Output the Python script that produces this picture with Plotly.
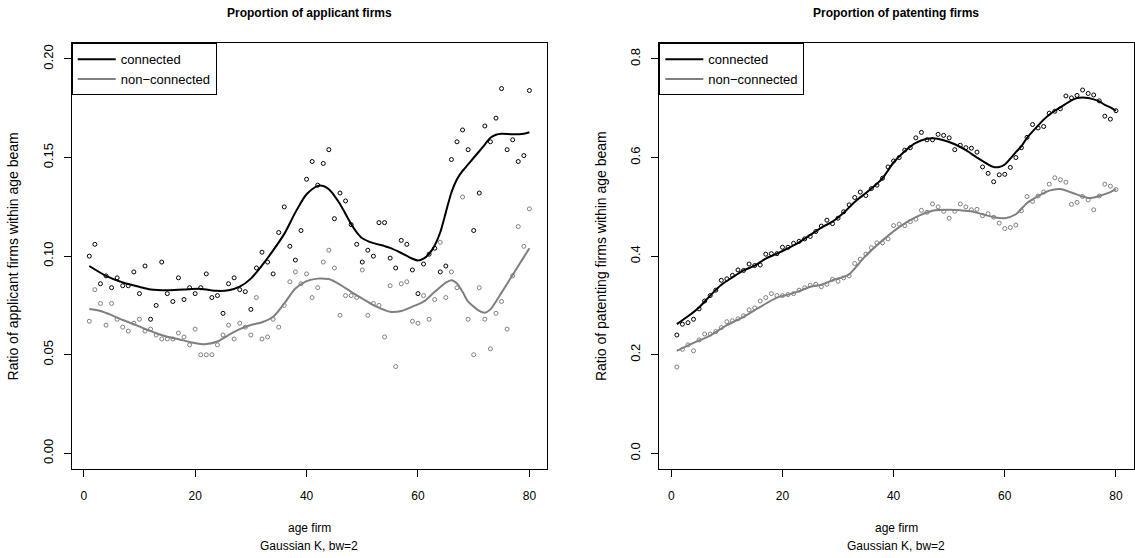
import plotly.graph_objects as go

# ---------------- data ----------------
ages = list(range(1, 81))

# Proportion of applicant firms (points)
app_connected = [0.100, 0.106, 0.086, 0.090, 0.084, 0.089, 0.085, 0.085, 0.092, 0.081,
                 0.095, 0.068, 0.075, 0.097, 0.081, 0.077, 0.089, 0.078, 0.084, 0.081,
                 0.084, 0.091, 0.079, 0.080, 0.071, 0.086, 0.089, 0.083, 0.082, 0.073,
                 0.094, 0.102, 0.097, 0.091, 0.112, 0.125, 0.105, 0.098, 0.113, 0.139,
                 0.148, 0.136, 0.147, 0.154, 0.119, 0.132, 0.128, 0.116, 0.106, 0.097,
                 0.103, 0.100, 0.117, 0.117, 0.099, 0.094, 0.108, 0.106, 0.093, 0.081,
                 0.096, 0.101, 0.104, 0.092, 0.095, 0.149, 0.158, 0.164, 0.154, 0.113,
                 0.132, 0.166, 0.158, 0.170, 0.185, 0.154, 0.159, 0.148, 0.151, 0.184]
app_nonconnected = [0.067, 0.083, 0.076, 0.065, 0.076, 0.068, 0.064, 0.062, 0.066, 0.068,
                    0.062, 0.063, 0.060, 0.058, 0.058, 0.058, 0.061, 0.059, 0.055, 0.063,
                    0.050, 0.050, 0.050, 0.055, 0.060, 0.065, 0.058, 0.066, 0.064, 0.060,
                    0.079, 0.058, 0.059, 0.068, 0.064, 0.075, 0.087, 0.092, 0.086, 0.091,
                    0.079, 0.084, 0.097, 0.103, 0.094, 0.070, 0.080, 0.080, 0.079, 0.093,
                    0.070, 0.076, 0.075, 0.059, 0.085, 0.044, 0.086, 0.087, 0.067, 0.066,
                    0.080, 0.068, 0.078, 0.107, 0.079, 0.092, 0.084, 0.130, 0.068, 0.050,
                    0.084, 0.068, 0.053, 0.071, 0.077, 0.063, 0.090, 0.115, 0.105, 0.124]

# Proportion of patenting firms (points)
pat_connected = [0.240, 0.262, 0.265, 0.272, 0.293, 0.309, 0.320, 0.331, 0.351, 0.354,
                 0.361, 0.372, 0.371, 0.384, 0.381, 0.382, 0.404, 0.405, 0.405, 0.418,
                 0.418, 0.426, 0.430, 0.435, 0.440, 0.450, 0.461, 0.473, 0.466, 0.477,
                 0.490, 0.504, 0.519, 0.530, 0.523, 0.537, 0.544, 0.558, 0.581, 0.593,
                 0.600, 0.615, 0.620, 0.640, 0.651, 0.636, 0.636, 0.647, 0.645, 0.640,
                 0.616, 0.625, 0.620, 0.619, 0.611, 0.581, 0.568, 0.551, 0.565, 0.566,
                 0.580, 0.600, 0.620, 0.641, 0.667, 0.660, 0.663, 0.690, 0.694, 0.699,
                 0.725, 0.721, 0.726, 0.737, 0.730, 0.727, 0.715, 0.684, 0.678, 0.695]
pat_nonconnected = [0.175, 0.211, 0.220, 0.208, 0.230, 0.242, 0.242, 0.247, 0.255, 0.267,
                    0.269, 0.273, 0.279, 0.291, 0.295, 0.309, 0.316, 0.324, 0.320, 0.320,
                    0.322, 0.324, 0.331, 0.336, 0.341, 0.343, 0.338, 0.343, 0.353, 0.349,
                    0.356, 0.360, 0.385, 0.394, 0.404, 0.417, 0.427, 0.427, 0.435, 0.462,
                    0.465, 0.462, 0.470, 0.475, 0.493, 0.489, 0.506, 0.500, 0.491, 0.477,
                    0.491, 0.506, 0.500, 0.494, 0.495, 0.482, 0.486, 0.479, 0.467, 0.456,
                    0.458, 0.463, 0.492, 0.521, 0.511, 0.522, 0.530, 0.546, 0.559, 0.555,
                    0.550, 0.505, 0.509, 0.521, 0.514, 0.494, 0.522, 0.546, 0.542, 0.535]

# Kernel-smoothed curves (Gaussian K, bw=2)
sm_app_conn_age = [1, 4, 7, 10, 12, 15, 18, 21, 24, 26, 28, 30, 32, 34, 36, 38, 40, 42, 43, 44,
                   45, 46, 47, 48, 49, 50, 52, 54, 55, 57, 59, 60, 61, 62, 63, 64, 65, 66, 67,
                   68, 69, 70, 71, 72, 73, 74, 75, 77, 79, 80]
sm_app_conn = [0.0950, 0.0900, 0.0866, 0.0844, 0.0831, 0.0827, 0.0831, 0.0834, 0.0824, 0.0827,
               0.0845, 0.0886, 0.0953, 0.1029, 0.1113, 0.1222, 0.1314, 0.1356, 0.1356, 0.1339,
               0.1306, 0.1264, 0.1214, 0.1163, 0.1121, 0.1091, 0.1066, 0.1051, 0.1042, 0.1016,
               0.0987, 0.0978, 0.0987, 0.1012, 0.1054, 0.1121, 0.1222, 0.1323, 0.1390, 0.1432,
               0.1465, 0.1499, 0.1532, 0.1566, 0.1600, 0.1616, 0.1621, 0.1618, 0.1621, 0.1628]

sm_app_non_age = [1, 3, 5, 7, 9, 11, 13, 15, 17, 19, 21, 22, 24, 26, 28, 30, 32, 34, 36, 38,
                  40, 42, 43, 44, 46, 48, 50, 52, 54, 55, 57, 59, 61, 63, 65, 66, 67, 68, 69,
                  70, 71, 72, 73, 74, 75, 76, 77, 78, 79, 80]
sm_app_non = [0.0732, 0.0722, 0.0701, 0.0676, 0.0655, 0.0631, 0.0609, 0.0591, 0.0579, 0.0565,
              0.0555, 0.0554, 0.0567, 0.0600, 0.0630, 0.0651, 0.0665, 0.0693, 0.0760, 0.0836,
              0.0873, 0.0886, 0.0886, 0.0884, 0.0856, 0.0819, 0.0785, 0.0752, 0.0727, 0.0718,
              0.0722, 0.0744, 0.0769, 0.0819, 0.0866, 0.0878, 0.0861, 0.0819, 0.0769, 0.0744,
              0.0722, 0.0713, 0.0730, 0.0770, 0.0815, 0.0860, 0.0905, 0.0950, 0.0995, 0.1040]

sm_pat_conn_age = [1, 3, 5, 7, 9, 11, 13, 15, 17, 19, 21, 23, 25, 27, 29, 31, 33, 35, 37, 38,
                   40, 42, 44, 46, 47, 49, 51, 53, 55, 57, 58, 59, 60, 61, 62, 63, 64, 65, 66,
                   67, 68, 69, 70, 72, 73, 74, 75, 76, 77, 78, 79, 80]
sm_pat_conn = [0.262, 0.278, 0.296, 0.320, 0.342, 0.357, 0.371, 0.381, 0.395, 0.405,
               0.416, 0.428, 0.443, 0.458, 0.470, 0.488, 0.510, 0.528, 0.547, 0.558,
               0.590, 0.613, 0.630, 0.638, 0.639, 0.635, 0.627, 0.615, 0.600, 0.586,
               0.581, 0.581, 0.586, 0.598, 0.611, 0.623, 0.640, 0.653, 0.665, 0.677,
               0.687, 0.695, 0.702, 0.716, 0.721, 0.722, 0.721, 0.718, 0.714, 0.707,
               0.702, 0.695]

sm_pat_non_age = [1, 4, 7, 10, 13, 16, 19, 21, 23, 25, 27, 29, 31, 32, 33, 35, 38, 41, 44, 47,
                  50, 52, 54, 56, 58, 60, 62, 64, 66, 68, 70, 72, 74, 75, 76, 77, 79, 80]
sm_pat_non = [0.208, 0.224, 0.239, 0.260, 0.277, 0.297, 0.316, 0.322, 0.329, 0.338,
              0.342, 0.351, 0.358, 0.363, 0.375, 0.401, 0.432, 0.459, 0.479, 0.492,
              0.494, 0.493, 0.491, 0.485, 0.479, 0.477, 0.485, 0.508, 0.522, 0.533,
              0.536, 0.529, 0.521, 0.518, 0.519, 0.522, 0.530, 0.536]

x_ticks = [0, 20, 40, 60, 80]
y_ticks_app = [0.00, 0.05, 0.10, 0.15, 0.20]
y_ticks_app_text = ["0.00", "0.05", "0.10", "0.15", "0.20"]
y_ticks_pat = [0.0, 0.2, 0.4, 0.6, 0.8]
y_ticks_pat_text = ["0.0", "0.2", "0.4", "0.6", "0.8"]

titles = ["Proportion of applicant firms", "Proportion of patenting firms"]
ylabels = ["Ratio of applicant firms within age beam", "Ratio of patenting firms within age beam"]
xlabel = "age firm"
xsub = "Gaussian K, bw=2"
series_names = ["connected", "non\u2212connected"]

# ---------------- figure ----------------
W, H = 1135, 558
BLACK = "#000000"
GREY = "#7f7f7f"
FONT = "Liberation Sans, Arial, Helvetica, sans-serif"

fig = go.Figure()

panels = [
    dict(xa="x", ya="y", legend="legend",
         pts=(app_connected, app_nonconnected),
         sm=((sm_app_conn_age, sm_app_conn), (sm_app_non_age, sm_app_non))),
    dict(xa="x2", ya="y2", legend="legend2",
         pts=(pat_connected, pat_nonconnected),
         sm=((sm_pat_conn_age, sm_pat_conn), (sm_pat_non_age, sm_pat_non))),
]
colors = [BLACK, GREY]

for p in panels:
    for k in range(2):
        fig.add_trace(go.Scatter(
            x=ages, y=p["pts"][k], mode="markers", xaxis=p["xa"], yaxis=p["ya"],
            marker=dict(symbol="circle-open", size=4, color=colors[k], line=dict(width=1, color=colors[k])),
            showlegend=False, hoverinfo="x+y"))
    for k in range(2):
        fig.add_trace(go.Scatter(
            x=p["sm"][k][0], y=p["sm"][k][1], mode="lines", xaxis=p["xa"], yaxis=p["ya"],
            line=dict(color=colors[k], width=2, shape="spline", smoothing=0.8),
            name=series_names[k], legend=p["legend"], showlegend=True))

# geometry in pixels
box_top, box_bot = 43.2, 469.1
left_x0, left_x1 = 71.7, 547.0
right_x0, right_x1 = 659.3, 1133.5
ydom = [1 - box_bot / H, 1 - box_top / H]

axis_common = dict(showline=True, mirror=True, linecolor=BLACK, linewidth=1,
                   ticks="outside", ticklen=7, tickwidth=1, tickcolor=BLACK,
                   showgrid=False, zeroline=False)
xfont = dict(family=FONT, size=12, color=BLACK)
yfont = dict(family=FONT, size=13, color=BLACK)

legend_style = dict(xanchor="left", yanchor="top", y=ydom[1],
                    bgcolor="white", bordercolor=BLACK, borderwidth=1,
                    font=dict(family=FONT, size=13, color=BLACK), itemwidth=38,
                    tracegroupgap=0)

fig.update_layout(
    width=W, height=H,
    margin=dict(l=0, r=0, t=0, b=0),
    paper_bgcolor="white", plot_bgcolor="white",
    font=dict(family=FONT, color=BLACK, size=12),
    xaxis=dict(domain=[left_x0 / W, left_x1 / W], range=[-2.16, 83.16], anchor="y",
               tickvals=x_ticks, tickfont=xfont, ticklabelstandoff=8, **axis_common),
    yaxis=dict(domain=ydom, range=[-0.008, 0.208], anchor="x",
               tickvals=y_ticks_app, ticktext=y_ticks_app_text, tickangle=-90,
               tickfont=yfont, ticklabelstandoff=6, **axis_common),
    xaxis2=dict(domain=[right_x0 / W, right_x1 / W], range=[-2.16, 83.16], anchor="y2",
                tickvals=x_ticks, tickfont=xfont, ticklabelstandoff=8, **axis_common),
    yaxis2=dict(domain=ydom, range=[-0.032, 0.832], anchor="x2",
                tickvals=y_ticks_pat, ticktext=y_ticks_pat_text, tickangle=-90,
                tickfont=yfont, ticklabelstandoff=6, **axis_common),
    legend=dict(x=left_x0 / W, **legend_style),
    legend2=dict(x=right_x0 / W, **legend_style),
    showlegend=True,
)

annotations = []
for i, (x0, x1) in enumerate([(left_x0, left_x1), (right_x0, right_x1)]):
    cx = (x0 + x1) / 2 / W
    annotations.append(dict(text="<b>" + titles[i] + "</b>", x=cx, y=1 - 13 / H, xref="paper", yref="paper",
                            xanchor="center", yanchor="middle", showarrow=False,
                            font=dict(family=FONT, size=12, color=BLACK)))
    annotations.append(dict(text=xlabel, x=cx, y=1 - 528 / H, xref="paper", yref="paper",
                            xanchor="center", yanchor="middle", showarrow=False,
                            font=dict(family=FONT, size=12, color=BLACK)))
    annotations.append(dict(text=xsub, x=cx, y=1 - 546 / H, xref="paper", yref="paper",
                            xanchor="center", yanchor="middle", showarrow=False,
                            font=dict(family=FONT, size=12, color=BLACK)))
    annotations.append(dict(text=ylabels[i], x=(x0 - 58.4) / W, y=(ydom[0] + ydom[1]) / 2,
                            xref="paper", yref="paper", textangle=-90,
                            xanchor="center", yanchor="middle", showarrow=False,
                            font=dict(family=FONT, size=14, color=BLACK)))
fig.update_layout(annotations=annotations)

fig.write_html("out.html",
               config={"displayModeBar": False},
               post_script="document.body.style.margin='0';document.body.style.overflow='hidden';")
